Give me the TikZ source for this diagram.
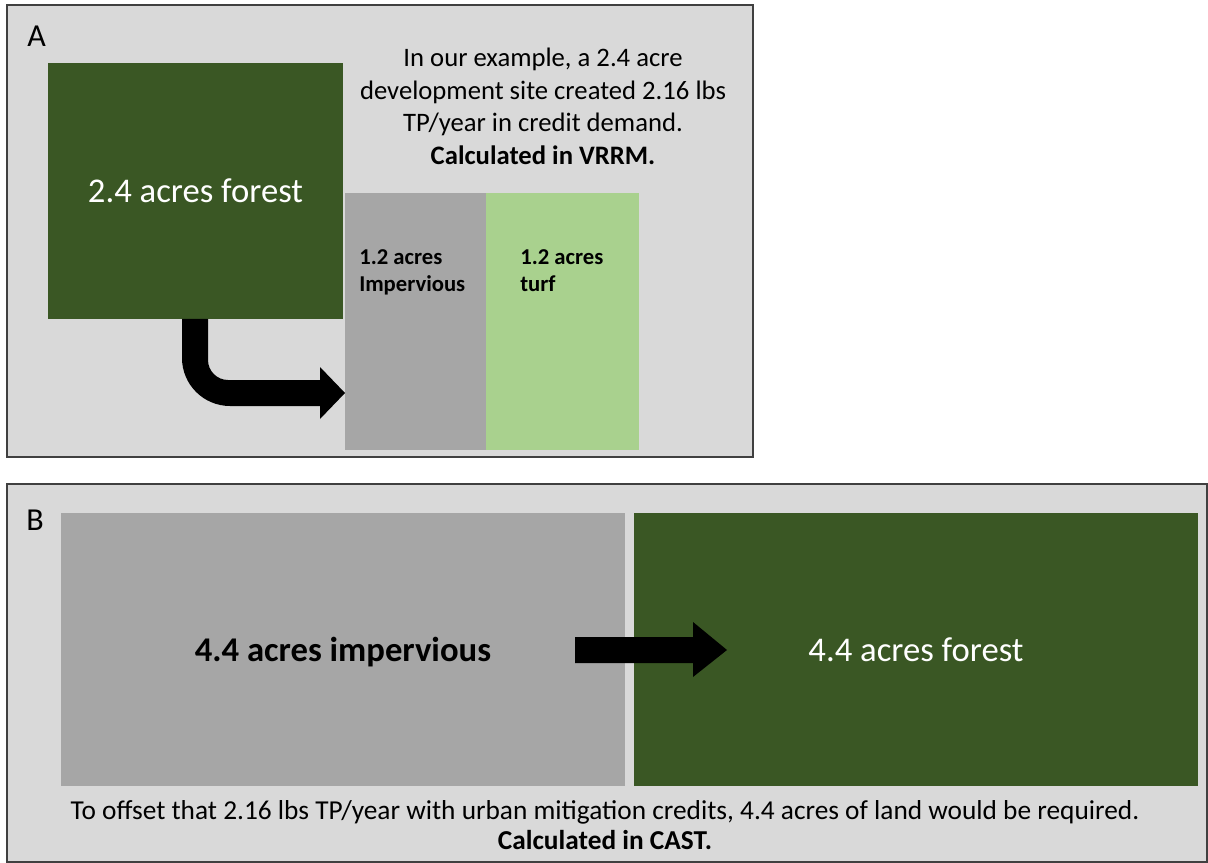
\documentclass[tikz,border=0pt]{standalone}
\usepackage{fontspec}
\setmainfont{Carlito}
\definecolor{panelbg}{HTML}{D9D9D9}
\definecolor{forestgreen}{HTML}{3A5724}
\definecolor{impgray}{HTML}{A6A6A6}
\definecolor{turfgreen}{HTML}{A9D18E}
\definecolor{edgegray}{HTML}{404040}
\begin{document}
\begin{tikzpicture}[x=0.75pt,y=-0.75pt,
  panel/.style={draw=edgegray,line width=1.2pt,fill=panelbg,anchor=north west,inner sep=0pt,outer sep=0pt},
  landbox/.style={draw=none,anchor=north west,inner sep=0pt,outer sep=0pt},
  bigwhite/.style={text=white,font=\fontsize{26pt}{31pt}\selectfont},
  bigblack/.style={text=black,font=\bfseries\fontsize{26pt}{31pt}\selectfont},
  smalllabel/.style={align=left,anchor=north west,inner sep=0pt,font=\bfseries\fontsize{17pt}{20.5pt}\selectfont},
  bodytext/.style={align=center,inner sep=0pt,font=\fontsize{20pt}{24.4pt}\selectfont},
  paneltag/.style={anchor=base west,inner sep=0pt,font=\fontsize{24pt}{29pt}\selectfont},
  blockarrow/.style={fill=black}]
\fill[white] (0,0) rectangle (1208,863);
\useasboundingbox (0,0) rectangle (1208,863);

% Panel A
\node[panel,minimum width=559.5pt,minimum height=339pt] (panelA) at (7,5) {};
\node[paneltag] (tagA) at (27,47) {A};
\node[landbox,fill=forestgreen,minimum width=221.25pt,minimum height=192pt] (forestA) at (48,63) {};
\node[bigwhite] (forestAtext) at (forestA.center) {2.4 acres forest};
\node[landbox,fill=impgray,minimum width=105.75pt,minimum height=192.75pt] (impA) at (345,193) {};
\node[landbox,fill=turfgreen,minimum width=114.75pt,minimum height=192.75pt] (turfA) at (486,193) {};
\node[smalllabel] (impAtext) at (359,249) {1.2 acres\\Impervious};
\node[smalllabel] (turfAtext) at (520,249) {1.2 acres\\turf};
\node[bodytext,anchor=north] (textA) at (543,48) {In our example, a 2.4 acre\\development site created 2.16 lbs\\TP/year in credit demand.\\\textbf{Calculated in VRRM.}};
\fill[blockarrow] (182,319) -- (182,358) .. controls (182,384.5) and (203.5,406) .. (230,406) -- (320,406) -- (320,419) -- (345,393) -- (320,367) -- (320,380) -- (228,380) .. controls (217,380) and (208,371) .. (208,360) -- (208,319) -- cycle;

% Panel B
\node[panel,minimum width=900pt,minimum height=283.5pt] (panelB) at (7,484) {};
\node[paneltag] (tagB) at (26,530) {B};
\node[landbox,fill=impgray,minimum width=423pt,minimum height=204.75pt] (impB) at (61,513) {};
\node[landbox,fill=forestgreen,minimum width=423pt,minimum height=204.75pt] (forestB) at (634,513) {};
\node[bigblack,yshift=-2.25pt] (impBtext) at (impB.center) {4.4 acres impervious};
\node[bigwhite] (forestBtext) at (forestB.center) {4.4 acres forest};
\fill[blockarrow] (575,637) -- (693,637) -- (693,622) -- (727,650) -- (693,677) -- (693,663) -- (575,663) -- cycle;
\node[bodytext,anchor=north,font=\fontsize{20.5pt}{23pt}\selectfont] (textB) at (605,800) {To offset that 2.16 lbs TP/year with urban mitigation credits, 4.4 acres of land would be required.\\\textbf{Calculated in CAST.}};
\end{tikzpicture}
\end{document}
